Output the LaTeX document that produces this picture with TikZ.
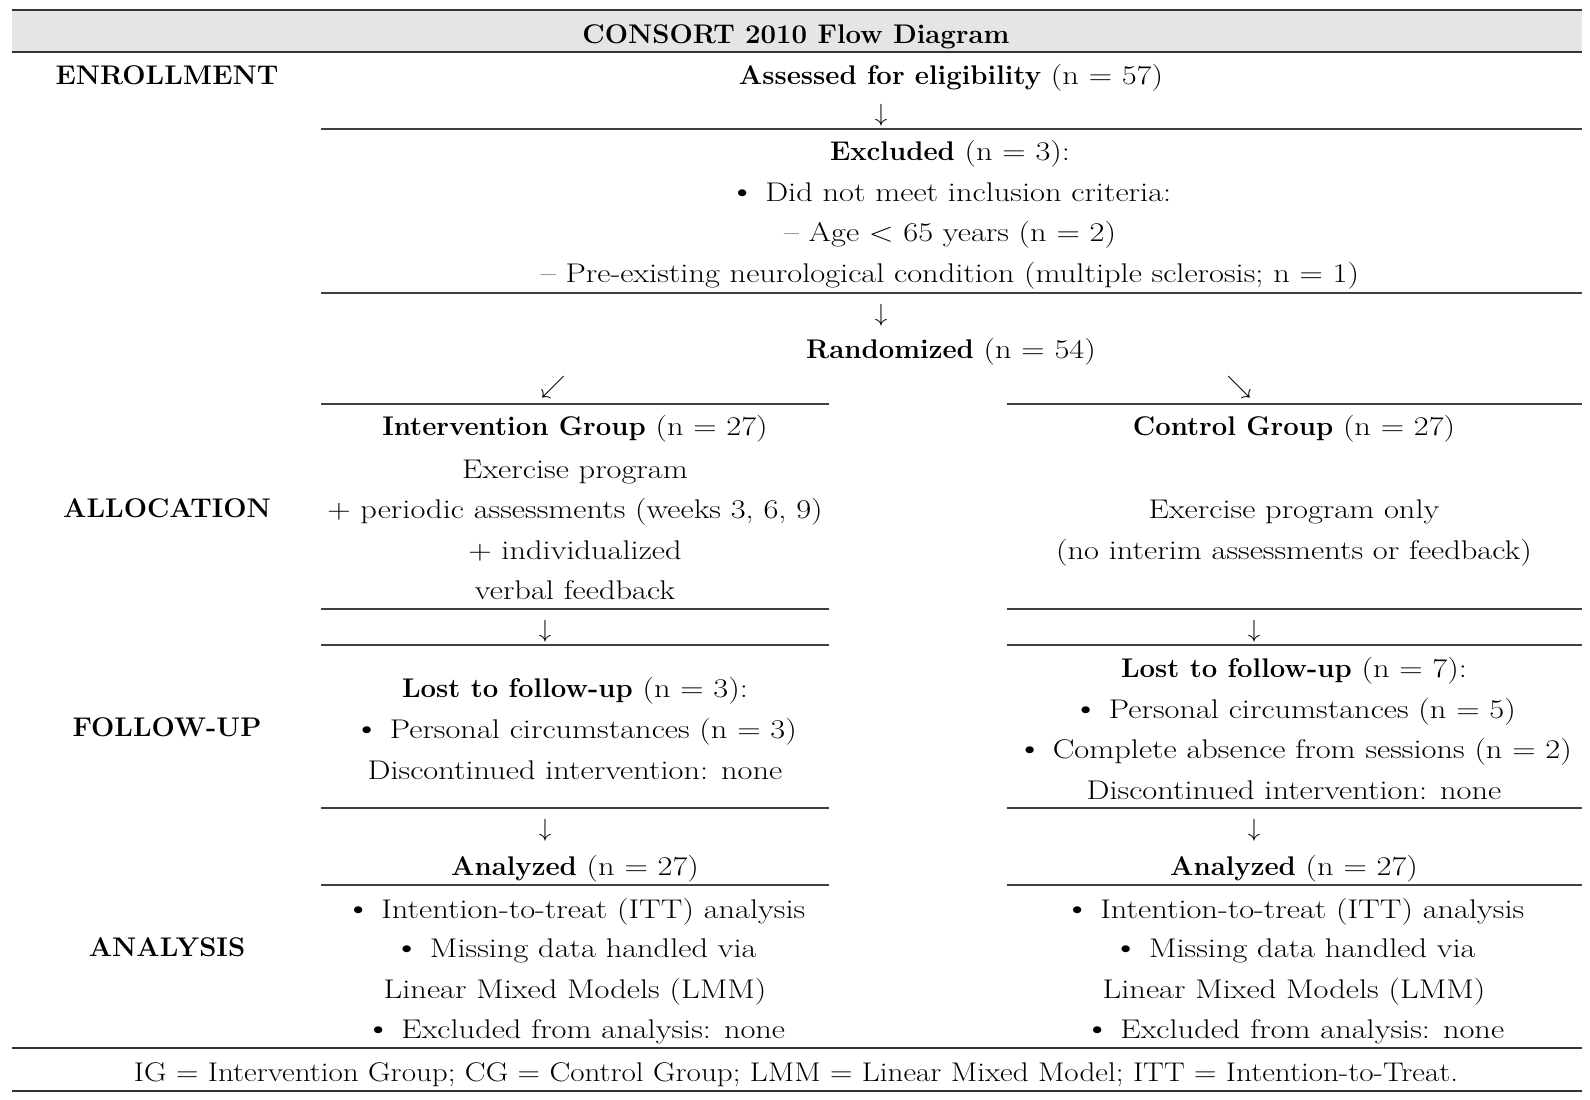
\documentclass[tikz,border=0pt]{standalone}
\usepackage{fontspec}
\setmainfont{Latin Modern Roman}[UprightFeatures={FakeStretch=1.2},BoldFeatures={FakeStretch=1.02}]
\newcommand{\bul}{{\fontsize{31}{31}\selectfont\textbullet}}
\begin{document}
\begin{tikzpicture}[x=1pt,y=-1pt,
  txt/.style={font=\fontsize{27}{32}\selectfont, inner sep=0pt, anchor=base},
  hd/.style={txt, font=\fontsize{27}{32}\selectfont\bfseries},
  major/.style={line width=2.2pt, draw=black!80},
  minor/.style={line width=1.6pt, draw=black!75},
  arr/.style={inner sep=0pt, anchor=center, font=\fontsize{27}{32}\selectfont}]
\useasboundingbox[fill=white] (0,0) rectangle (1590,1100);
% header band
\fill[black!10] (12,10) rectangle (1582,52);
\draw[major] (12,10) -- (1582,10);
\draw[major] (12,52) -- (1582,52);
\node[hd] (title) at (796,43) {CONSORT 2010 Flow Diagram};
% stage labels
\node[hd] (enr) at (167,84) {ENROLLMENT};
\node[hd] (alloc) at (167,517) {ALLOCATION};
\node[hd] (fu) at (167,736) {FOLLOW-UP};
\node[hd] (ana) at (167,956) {ANALYSIS};
% enrollment
\node[txt] (assess) at (951,84) {\textbf{Assessed for eligibility} (n = 57)};
\node[arr] (a1) at (881,115) {$\downarrow$};
\draw[minor] (321,129) -- (1582,129);
\node[txt] (ex1) at (950,160) {\textbf{Excluded} (n = 3):};
\node[txt] (ex2) at (950,201) {\bul{} Did not meet inclusion criteria:};
\node[txt] (ex3) at (950,241) {-- Age \textless{} 65 years (n = 2)};
\node[txt] (ex4) at (950,282) {-- Pre-existing neurological condition (multiple sclerosis; n = 1)};
\draw[minor] (321,293) -- (1582,293);
\node[arr] (a2) at (881,315) {$\downarrow$};
\node[txt] (rand) at (951,358) {\textbf{Randomized} (n = 54)};
\node[arr] (a3) at (553,387) {$\swarrow$};
\node[arr] (a4) at (1239,387) {$\searrow$};
% allocation
\draw[minor] (321,404) -- (829,404);
\draw[minor] (1007,404) -- (1582,404);
\node[txt] (ig1) at (575,435) {\textbf{Intervention Group} (n = 27)};
\node[txt] (ig2) at (575,478) {Exercise program};
\node[txt] (ig3) at (575,518) {+ periodic assessments (weeks 3, 6, 9)};
\node[txt] (ig4) at (575,559) {+ individualized};
\node[txt] (ig5) at (575,599) {verbal feedback};
\node[txt] (cg1) at (1294,435) {\textbf{Control Group} (n = 27)};
\node[txt] (cg2) at (1294,518) {Exercise program only};
\node[txt] (cg3) at (1294,559) {(no interim assessments or feedback)};
\draw[minor] (321,609) -- (829,609);
\draw[minor] (1007,609) -- (1582,609);
\node[arr] (a5) at (545,631) {$\downarrow$};
\node[arr] (a6) at (1254,631) {$\downarrow$};
\draw[minor] (321,645) -- (829,645);
\draw[minor] (1007,645) -- (1582,645);
% follow-up
\node[txt] (il1) at (575,697) {\textbf{Lost to follow-up} (n = 3):};
\node[txt] (il2) at (575,738) {\bul{} Personal circumstances (n = 3)};
\node[txt] (il3) at (575,779) {Discontinued intervention: none};
\node[txt] (cl1) at (1294,677) {\textbf{Lost to follow-up} (n = 7):};
\node[txt] (cl2) at (1294,718) {\bul{} Personal circumstances (n = 5)};
\node[txt] (cl3) at (1294,758) {\bul{} Complete absence from sessions (n = 2)};
\node[txt] (cl4) at (1294,799) {Discontinued intervention: none};
\draw[minor] (321,808) -- (829,808);
\draw[minor] (1007,808) -- (1582,808);
\node[arr] (a7) at (545,830) {$\downarrow$};
\node[arr] (a8) at (1254,830) {$\downarrow$};
% analysis
\node[txt] (ia0) at (575,875) {\textbf{Analyzed} (n = 27)};
\node[txt] (ca0) at (1294,875) {\textbf{Analyzed} (n = 27)};
\draw[minor] (321,885) -- (829,885);
\draw[minor] (1007,885) -- (1582,885);
\node[txt] (ia1) at (575,918) {\bul{} Intention-to-treat (ITT) analysis};
\node[txt] (ia2) at (575,957) {\bul{} Missing data handled via};
\node[txt] (ia3) at (575,998) {Linear Mixed Models (LMM)};
\node[txt] (ia4) at (575,1038) {\bul{} Excluded from analysis: none};
\node[txt] (ca1) at (1294,918) {\bul{} Intention-to-treat (ITT) analysis};
\node[txt] (ca2) at (1294,957) {\bul{} Missing data handled via};
\node[txt] (ca3) at (1294,998) {Linear Mixed Models (LMM)};
\node[txt] (ca4) at (1294,1038) {\bul{} Excluded from analysis: none};
% footer
\draw[major] (12,1048) -- (1582,1048);
\node[txt, xscale=0.96, transform shape] (foot) at (796,1081) {IG = Intervention Group; CG = Control Group; LMM = Linear Mixed Model; ITT = Intention-to-Treat.};
\draw[major] (12,1091) -- (1582,1091);
\end{tikzpicture}
\end{document}
